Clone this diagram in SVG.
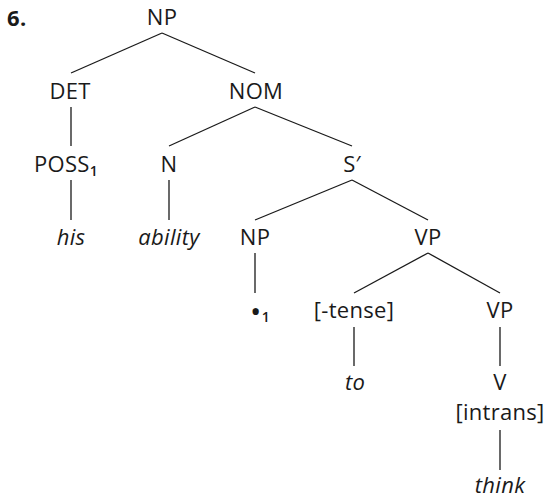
<svg xmlns="http://www.w3.org/2000/svg" width="545" height="499" viewBox="0 0 545 499">
<style>
text{font-family:"Open Sans","Noto Sans",sans-serif;font-size:22px;fill:#1a1a1a;text-anchor:middle;letter-spacing:0.3px}
.it{font-style:italic}
.sub{font-size:14px;font-weight:600}
.dot{font-size:30px}
line{stroke:#1a1a1a;stroke-width:1.3}
</style>
<rect width="545" height="499" fill="#fff"/>
<text x="7" y="26" style="text-anchor:start;font-weight:bold">6.</text>
<g id="connectors">
<line x1="162" y1="33" x2="71" y2="73"/>
<line x1="162" y1="33" x2="255" y2="73"/>
<line x1="71" y1="107" x2="71" y2="146"/>
<line x1="255" y1="107" x2="169" y2="146"/>
<line x1="255" y1="107" x2="352" y2="146"/>
<line x1="71" y1="180" x2="71" y2="220"/>
<line x1="169" y1="180" x2="169" y2="220"/>
<line x1="352" y1="180" x2="255" y2="220"/>
<line x1="352" y1="180" x2="428" y2="220"/>
<line x1="255" y1="253" x2="255" y2="293"/>
<line x1="428" y1="253" x2="354" y2="293"/>
<line x1="428" y1="253" x2="500" y2="293"/>
<line x1="354" y1="327" x2="354" y2="366"/>
<line x1="500" y1="327" x2="500" y2="366"/>
<line x1="500" y1="430" x2="500" y2="470"/>
</g>
<g id="np-top"><text x="162" y="25">NP</text></g>
<g id="det"><text x="70" y="99">DET</text></g>
<g id="nom"><text x="256" y="99">NOM</text></g>
<g id="poss"><text x="66" y="172">POSS<tspan class="sub" dy="4">1</tspan></text></g>
<g id="n"><text x="169" y="172">N</text></g>
<g id="sbar"><text x="352" y="172">S′</text></g>
<g id="his"><text class="it" x="71" y="245">his</text></g>
<g id="ability"><text class="it" x="169" y="245">ability</text></g>
<g id="np2"><text x="255" y="245">NP</text></g>
<g id="vp1"><text x="428" y="245">VP</text></g>
<g id="trace"><text x="260" y="322"><tspan class="dot">•</tspan><tspan class="sub" dy="0">1</tspan></text></g>
<g id="tense"><text x="354" y="318">[-tense]</text></g>
<g id="vp2"><text x="500" y="318">VP</text></g>
<g id="to"><text class="it" x="355" y="390">to</text></g>
<g id="v"><text x="500" y="390">V</text><text x="500" y="420">[intrans]</text></g>
<g id="think"><text class="it" x="500" y="493">think</text></g>
</svg>
